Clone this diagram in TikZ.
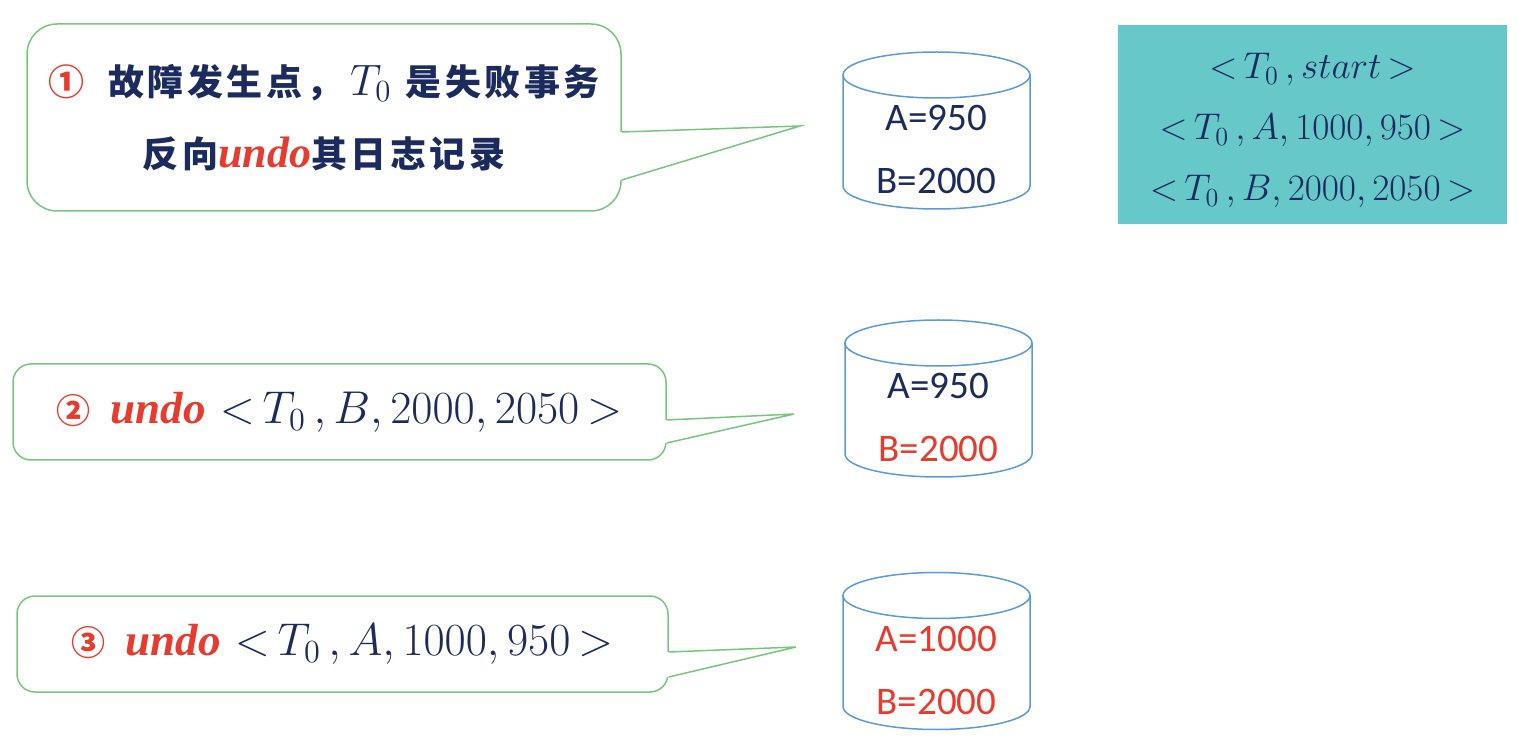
\RequirePackage{fix-cm}
\documentclass[tikz,border=0pt]{standalone}
\usepackage{fontspec}
\usepackage{tikz}
\usetikzlibrary{calc}
\newfontfamily\cjk[LetterSpace=10]{Noto Sans CJK SC}
\newfontfamily\cylfont{Carlito}
\newfontfamily\undofont{Liberation Serif}

\definecolor{navy}{HTML}{1C2B5E}
\definecolor{undored}{HTML}{E63B2E}
\definecolor{callgreen}{HTML}{78C57C}
\definecolor{dbblue}{HTML}{5B9BD5}
\definecolor{logteal}{HTML}{66C8C9}

\tikzset{
  callbox/.style={draw=callgreen, line width=0.75pt, fill=white, align=center, text=navy},
  callline/.style={draw=callgreen, line width=0.75pt},
  dbline/.style={draw=dbblue, line width=0.75pt},
  dbtext/.style={font=\cylfont\fontsize{19.5}{22}\selectfont},
  logbox/.style={fill=logteal, minimum width=194.5pt, minimum height=99.5pt},
  logtext/.style={text=navy, align=center, font=\fontsize{18.6}{30.5}\selectfont}
}

\begin{document}
\begin{tikzpicture}[x=0.5pt,y=0.5pt]
        \useasboundingbox (0,0) rectangle (1522,740);

        % Callout boxes
        \node[callbox, minimum width=297pt, minimum height=93.5pt, rounded corners=15pt,
              font=\fontsize{18}{36}\selectfont] (c1) at (324,622.5)
            {{\cjk\bfseries\color{undored}①}\hspace{12pt}{\cjk\bfseries 故障发生点，}\hspace{4pt}{\fontsize{22}{36}\selectfont$T_0$}\hspace{7pt}{\cjk\bfseries 是失败事务}\\
             {\cjk\bfseries 反向}{\undofont\bfseries\itshape\fontsize{22}{36}\selectfont\color{undored}undo}{\cjk\bfseries 其日志记录}};
        \node[callbox, minimum width=326.5pt, minimum height=48pt, rounded corners=9pt,
              font=\fontsize{23}{26}\selectfont] (c2) at (339.5,328)
            {{\cjk\bfseries\fontsize{17}{20}\selectfont\color{undored}②}\hspace{10pt}{\undofont\bfseries\itshape\fontsize{22.5}{26}\selectfont\color{undored}undo}\hspace{7pt}$\mathord{<}\,T_0\,,B,2000,2050\,\mathord{>}$};
        \node[callbox, minimum width=325.5pt, minimum height=48pt, rounded corners=9pt,
              font=\fontsize{23}{26}\selectfont] (c3) at (342.5,96)
            {{\cjk\bfseries\fontsize{17}{20}\selectfont\color{undored}③}\hspace{10pt}{\undofont\bfseries\itshape\fontsize{22.5}{26}\selectfont\color{undored}undo}\hspace{7pt}$\mathord{<}\,T_0\,,A,1000,950\,\mathord{>}$};

        % Callout pointers
        \foreach \c/\ta/\tb/\tx/\ty in {c1/-14.5/-62.5/800/614, c2/-8/-31/794/326, c3/-8/-33/796/93} {
            \coordinate (tip\c) at (\tx,\ty);
            \fill[white] ($(\c.east)+(-1.5,\ta)$) rectangle ($(\c.east)+(1.5,\tb)$);
            \draw[callline] ($(\c.east)+(0,\ta)$) -- (tip\c) -- ($(\c.east)+(0,\tb)$);
        }

        % Database cylinders
        \foreach \n/\cx/\cy/\ca/\cb/\va in {1/936.5/609.5/navy/navy/950, 2/938.5/341.5/navy/undored/950, 3/936.5/89/undored/undored/1000} {
            \draw[dbline] (\cx,\cy+55.5) ellipse [x radius=93.5, y radius=23];
            \draw[dbline] (\cx-93.5,\cy+55.5) -- (\cx-93.5,\cy-55.5)
                arc [start angle=180, end angle=360, x radius=93.5, y radius=23] -- (\cx+93.5,\cy+55.5);
            \node[dbtext, text=\ca] (a\n) at (\cx,\cy+12.5) {A=\va};
            \node[dbtext, text=\cb] (b\n) at (\cx,\cy-50.5) {B=2000};
        }

        % Log records
        \node[logbox] (log) at (1312.5,615.5) {};
        \node[logtext] (logtxt) at ($(log.center)+(0,-6)$)
            {$\mathord{<}\,T_0\,,start\,\mathord{>}$\\
             $\mathord{<}\,T_0\,,A,1000,950\,\mathord{>}$\\
             $\mathord{<}\,T_0\,,B,2000,2050\,\mathord{>}$};
    \end{tikzpicture}
\end{document}
